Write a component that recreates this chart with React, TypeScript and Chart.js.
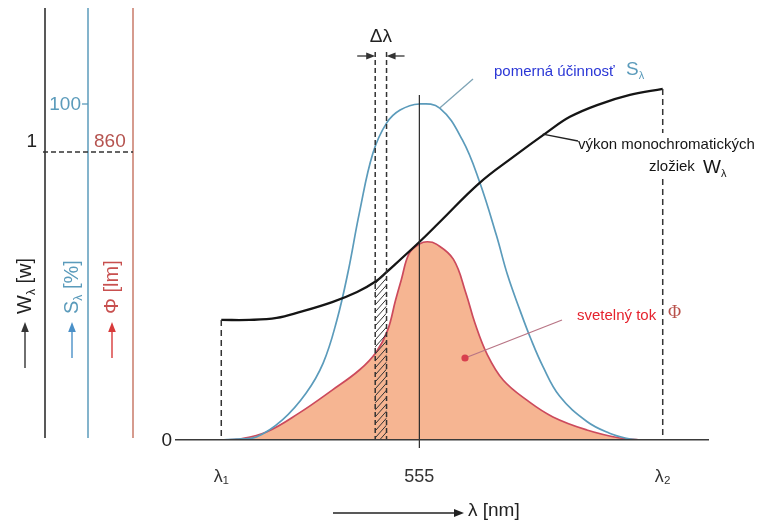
import React, { useEffect, useRef } from 'react';
import { Chart, registerables } from 'chart.js';

Chart.register(...registerables);

const FONT = '"Liberation Sans", Arial, sans-serif';

// wavelength axis: λ1 … 555 nm … λ2
const LAMBDA_TICKS = [380, 555, 770];
const LAMBDA_LABELS = ['λ₁', '555', 'λ₂'];

// W_λ – power of the monochromatic components [W]
const W_NM = [380, 405, 429, 449, 478, 500, 517, 526, 555, 573, 608, 638, 668, 688, 712, 741, 770];
const W_VALUES = [0.417, 0.417, 0.424, 0.444, 0.479, 0.514, 0.552, 0.583, 0.6875, 0.757, 0.892, 0.983, 1.069, 1.122, 1.163, 1.198, 1.219];

// S_λ – relative luminous efficiency [%]
const S_NM = [380, 394, 411, 434, 455, 470, 482, 492, 502, 514, 526, 538, 555, 573, 593, 608, 623, 633, 644, 653, 664, 679, 703, 723, 738, 750];
const S_VALUES = [0, 0.3, 0.9, 6.0, 14.0, 22.9, 35.5, 50, 67.6, 85.4, 94.3, 98.2, 100, 98.8, 89.3, 77, 61, 49, 38.5, 30.5, 22, 13, 5.5, 2, 0.5, 0];

// Φ – luminous flux [lm]
const PHI_NM = [380, 396, 420, 449, 478, 502, 517, 527, 534, 539, 546, 555, 562, 570, 585, 596, 604, 615, 629, 650, 673, 703, 732, 750];
const PHI_VALUES = [0, 3, 24, 81, 149, 209, 263, 328, 418, 478, 557, 585, 592, 585, 540, 440, 350, 255, 179, 119, 69, 30, 6, 0];

// Δλ band
const DELTA_BAND = [516, 526];

// values marked on the side axes
const W_MARK = 1;
const S_MARK = 100;
const PHI_MARK = 860;

const W_COLOR = '#151515';
const S_COLOR = '#5b9bbb';
const PHI_LINE = '#cc4a5c';
const PHI_FILL = '#f6b592';
const PHI_AXIS = '#c97a68';

type Part = { t: string; size: number; dy?: number; family?: string; color?: string };

function runText(ctx: CanvasRenderingContext2D, parts: Part[], x: number, y: number, color: string) {
  let cx = x;
  ctx.textAlign = 'left';
  ctx.textBaseline = 'middle';
  for (const p of parts) {
    ctx.font = `${p.size}px ${p.family ?? FONT}`;
    ctx.fillStyle = p.color ?? color;
    ctx.fillText(p.t, cx, y + (p.dy ?? 0));
    cx += ctx.measureText(p.t).width;
  }
  return cx;
}

function arrowHead(ctx: CanvasRenderingContext2D, x: number, y: number, angle: number, len: number, half: number, color: string) {
  ctx.save();
  ctx.translate(x, y);
  ctx.rotate(angle);
  ctx.beginPath();
  ctx.moveTo(0, 0);
  ctx.lineTo(-len, -half);
  ctx.lineTo(-len, half);
  ctx.closePath();
  ctx.fillStyle = color;
  ctx.fill();
  ctx.restore();
}

function line(ctx: CanvasRenderingContext2D, x1: number, y1: number, x2: number, y2: number, color: string, width: number, dash: number[] = []) {
  ctx.save();
  ctx.beginPath();
  ctx.setLineDash(dash);
  ctx.strokeStyle = color;
  ctx.lineWidth = width;
  ctx.moveTo(x1, y1);
  ctx.lineTo(x2, y2);
  ctx.stroke();
  ctx.restore();
}

function wAt(nm: number) {
  for (let i = 0; i < W_NM.length - 1; i++) {
    if (nm >= W_NM[i] && nm <= W_NM[i + 1]) {
      const t = (nm - W_NM[i]) / (W_NM[i + 1] - W_NM[i]);
      return W_VALUES[i] + t * (W_VALUES[i + 1] - W_VALUES[i]);
    }
  }
  return W_VALUES[W_VALUES.length - 1];
}

// rotated axis title: arrow pointing up followed by the text
function sideTitle(ctx: CanvasRenderingContext2D, cx: number, yTail: number, arrowLen: number, parts: Part[], color: string, arrowColor: string) {
  ctx.save();
  ctx.translate(cx, yTail);
  ctx.rotate(-Math.PI / 2);
  line(ctx, 0, 0, arrowLen - 8, 0, arrowColor, 1.4);
  arrowHead(ctx, arrowLen, 0, 0, 10, 3.8, arrowColor);
  runText(ctx, parts, arrowLen + 8, 0, color);
  ctx.restore();
}

const overlay = {
  id: 'diagramOverlay',
  afterDatasetsDraw(chart: any) {
    const ctx: CanvasRenderingContext2D = chart.ctx;
    const { x, yW, yS, yPhi } = chart.scales;
    const px = (nm: number) => x.getPixelForValue(nm);
    const base = yW.getPixelForValue(0);

    // hatched Δλ strip under the W curve
    const [b0, b1] = DELTA_BAND;
    const xa = px(b0);
    const xb = px(b1);
    const ta = yW.getPixelForValue(wAt(b0));
    const tb = yW.getPixelForValue(wAt(b1));
    ctx.save();
    ctx.beginPath();
    ctx.moveTo(xa, base);
    ctx.lineTo(xa, ta);
    ctx.lineTo(xb, tb);
    ctx.lineTo(xb, base);
    ctx.closePath();
    ctx.clip();
    ctx.strokeStyle = '#333';
    ctx.lineWidth = 1;
    for (let yy = base + 20; yy > Math.min(ta, tb) - 20; yy -= 7) {
      ctx.beginPath();
      ctx.moveTo(xa - 1, yy);
      ctx.lineTo(xb + 1, yy - 15);
      ctx.stroke();
    }
    ctx.restore();

    // Δλ boundaries and arrows
    line(ctx, xa, 52, xa, base, '#333', 1.5, [5, 3]);
    line(ctx, xb, 52, xb, base, '#333', 1.5, [5, 3]);
    line(ctx, xa - 18, 56, xa - 6, 56, '#333', 1.3);
    arrowHead(ctx, xa, 56, 0, 9, 3.6, '#333');
    line(ctx, xb + 18, 56, xb + 6, 56, '#333', 1.3);
    arrowHead(ctx, xb, 56, Math.PI, 9, 3.6, '#333');
    ctx.font = `19px ${FONT}`;
    ctx.fillStyle = '#222';
    ctx.textAlign = 'center';
    ctx.textBaseline = 'middle';
    ctx.fillText('Δλ', (xa + xb) / 2, 37);

    // 555 nm line
    const x555 = px(LAMBDA_TICKS[1]);
    line(ctx, x555, 95, x555, base + 8, '#2a2a2a', 1.2);

    // λ1 and λ2 limits
    const x1 = px(LAMBDA_TICKS[0]);
    const x2 = px(LAMBDA_TICKS[2]);
    line(ctx, x1, yW.getPixelForValue(W_VALUES[0]), x1, base, '#333', 1.5, [6, 4]);
    line(ctx, x2, yW.getPixelForValue(W_VALUES[W_VALUES.length - 1]), x2, base, '#333', 1.5, [6, 4]);

    // annotation: S_λ
    const sA = { x: px(573), y: yS.getPixelForValue(98.8) };
    line(ctx, sA.x, sA.y, 473, 79, '#7ea4b6', 1.3);
    runText(ctx, [{ t: 'pomerná účinnosť', size: 15 }], 494, 72, '#2a36d6');
    runText(ctx, [{ t: 'S', size: 19, color: S_COLOR }, { t: 'λ', size: 11, dy: 6, color: S_COLOR }], 626, 70, S_COLOR);

    // annotation: W_λ
    ctx.fillStyle = '#fff';
    ctx.fillRect(x2 - 6, 133, 12, 46);
    const wA = { x: px(664), y: yW.getPixelForValue(1.062) };
    line(ctx, wA.x, wA.y, 578, 141, '#222', 1.3);
    runText(ctx, [{ t: 'výkon monochromatických', size: 15 }], 578, 145, '#151515');
    runText(ctx, [{ t: 'zložiek', size: 15 }], 649, 167, '#151515');
    runText(ctx, [{ t: 'W', size: 19 }, { t: 'λ', size: 11, dy: 6 }], 703, 168, '#151515');

    // annotation: Φ
    line(ctx, 465, 358, 562, 320, '#b87585', 1.3);
    ctx.beginPath();
    ctx.arc(465, 358, 3.6, 0, Math.PI * 2);
    ctx.fillStyle = '#d8404e';
    ctx.fill();
    runText(ctx, [{ t: 'svetelný tok', size: 15 }], 577, 316, '#e5222d');
    runText(ctx, [{ t: 'Φ', size: 18, family: '"Liberation Serif", serif' }], 668, 313, '#b8504a');

    // side axes
    const top = yW.top;
    line(ctx, 45, top, 45, base - 2, '#222', 1.5);
    line(ctx, 88, top, 88, base - 2, S_COLOR, 1.5);
    line(ctx, 133, top, 133, base - 2, PHI_AXIS, 1.5);

    const yS100 = yS.getPixelForValue(S_MARK);
    line(ctx, 82, yS100, 88, yS100, S_COLOR, 1.3);
    ctx.font = `19px ${FONT}`;
    ctx.textBaseline = 'middle';
    ctx.textAlign = 'right';
    ctx.fillStyle = S_COLOR;
    ctx.fillText(String(S_MARK), 81, yS100 + 1);

    const yW1 = yW.getPixelForValue(W_MARK);
    const yP860 = yPhi.getPixelForValue(PHI_MARK);
    line(ctx, 43, yW1, 133, yW1, '#333', 1.3, [5, 3]);
    ctx.fillStyle = '#222';
    ctx.fillText(String(W_MARK), 37, yW1 - 10);
    ctx.textAlign = 'left';
    ctx.fillStyle = '#b5534f';
    ctx.fillText(String(PHI_MARK), 94, yP860 - 10);

    ctx.textAlign = 'right';
    ctx.fillStyle = '#222';
    ctx.fillText('0', 172, base + 1);

    sideTitle(ctx, 25, 368, 46, [{ t: 'W', size: 20 }, { t: 'λ', size: 12, dy: 7 }, { t: ' [w]', size: 20 }], '#222', '#333');
    sideTitle(ctx, 72, 358, 36, [{ t: 'S', size: 20 }, { t: 'λ', size: 12, dy: 7 }, { t: ' [%]', size: 20 }], S_COLOR, '#4a90c8');
    sideTitle(ctx, 112, 358, 36, [{ t: 'Φ [lm]', size: 20 }], '#c8504f', '#d83a3a');

    // wavelength axis title
    line(ctx, 333, 513, 456, 513, '#222', 1.4);
    arrowHead(ctx, 464, 513, 0, 10, 4, '#222');
    runText(ctx, [{ t: 'λ [nm]', size: 19 }], 468, 511, '#222');
  },
};

export default function App() {
  const ref = useRef<HTMLCanvasElement>(null);

  useEffect(() => {
    const canvas = ref.current;
    if (!canvas) return;
    const curve = { pointRadius: 0, tension: 0.4, fill: false };
    const chart = new Chart(canvas, {
      type: 'line',
      data: {
        datasets: [
          {
            ...curve,
            label: 'Φ',
            data: PHI_NM.map((v, i) => ({ x: v, y: PHI_VALUES[i] })),
            yAxisID: 'yPhi',
            borderColor: PHI_LINE,
            backgroundColor: PHI_FILL,
            fill: 'origin',
            borderWidth: 1.7,
            order: 3,
          },
          {
            ...curve,
            label: 'S',
            data: S_NM.map((v, i) => ({ x: v, y: S_VALUES[i] })),
            yAxisID: 'yS',
            borderColor: S_COLOR,
            borderWidth: 1.7,
            order: 2,
          },
          {
            ...curve,
            label: 'W',
            data: W_NM.map((v, i) => ({ x: v, y: W_VALUES[i] })),
            yAxisID: 'yW',
            borderColor: W_COLOR,
            borderWidth: 2.3,
            order: 1,
          },
        ],
      },
      options: {
        responsive: false,
        animation: false,
        events: [],
        layout: { padding: { left: 176, right: 56, top: 8, bottom: 0 } },
        plugins: { legend: { display: false }, tooltip: { enabled: false } },
        scales: {
          x: {
            type: 'linear',
            min: 340,
            max: 810,
            position: 'bottom',
            grid: { display: false },
            border: { display: true, color: '#3a3a3a', width: 1.6, z: 1 },
            afterBuildTicks: (s: any) => {
              s.ticks = LAMBDA_TICKS.map((v) => ({ value: v }));
            },
            afterFit: (s: any) => {
              s.height = 83;
            },
            ticks: {
              autoSkip: false,
              maxRotation: 0,
              padding: 18,
              color: '#333',
              font: { family: FONT, size: 18 },
              callback: (v: any) => {
                const i = LAMBDA_TICKS.indexOf(Number(v));
                return i >= 0 ? LAMBDA_LABELS[i] : '';
              },
            },
          },
          yW: { type: 'linear', display: false, min: 0, max: 1.5 },
          yS: { type: 'linear', display: false, min: 0, max: 128.57 },
          yPhi: { type: 'linear', display: false, min: 0, max: 1290 },
        },
      },
      plugins: [overlay],
    } as any);
    return () => chart.destroy();
  }, []);

  return (
    <div style={{ position: 'fixed', left: 0, top: 0, width: 764, height: 523, background: '#fff' }}>
      <canvas ref={ref} width={764} height={523} style={{ width: 764, height: 523, display: 'block' }} />
    </div>
  );
}
